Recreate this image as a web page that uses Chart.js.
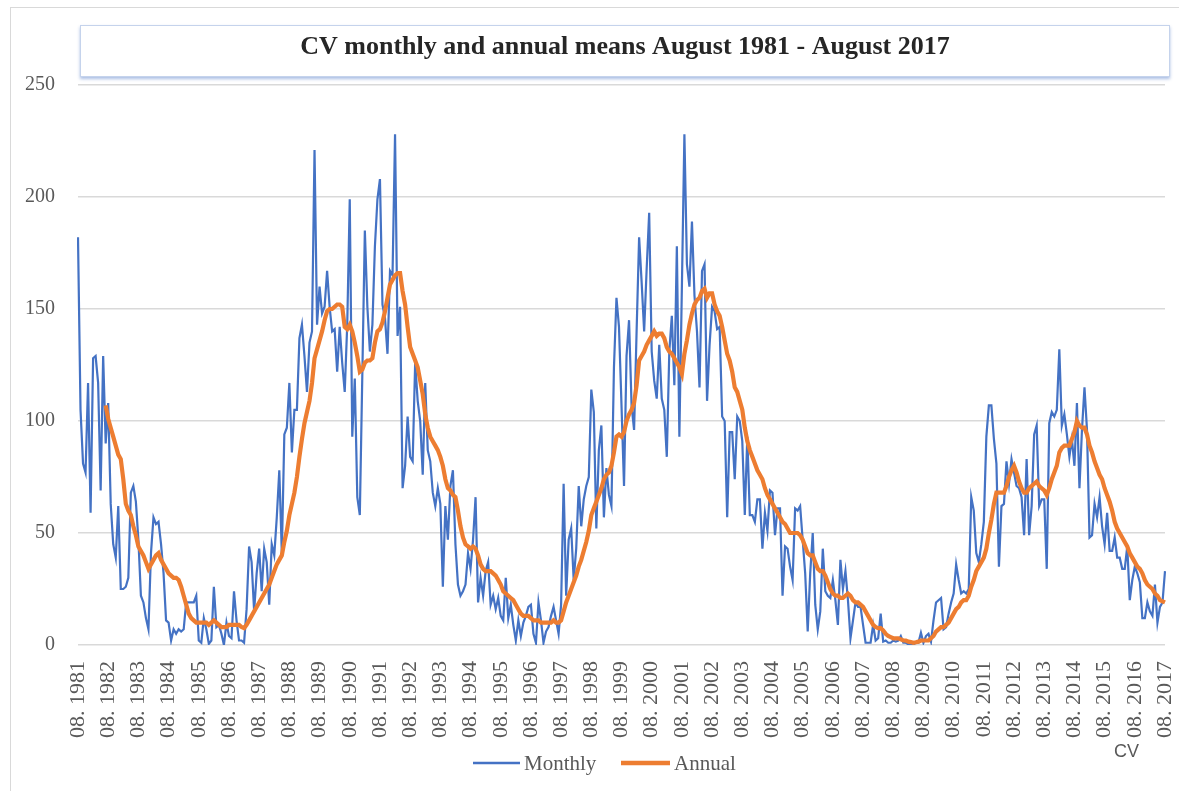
<!DOCTYPE html>
<html>
<head>
<meta charset="utf-8">
<title>CV monthly and annual means</title>
<script src="https://cdn.jsdelivr.net/npm/chart.js@4.4.1/dist/chart.umd.min.js"></script>
<style>
  html, body { margin: 0; padding: 0; background: #fff; }
  #wrap { width: 1179px; height: 791px; }
</style>
</head>
<body>
<div id="wrap"><canvas id="cv-chart" width="1179" height="791"></canvas></div>
<script>
// first month of the series, then one value per month (Aug 1981 .. Aug 2017)
const startYear = 1981;
const startMonth = 8;

const monthly = [
  182, 105, 81, 77, 117, 59, 128, 129, 117, 69, 129, 90,
  108, 63, 45, 39, 62, 25, 25, 26, 30, 68, 71, 64,
  47, 22, 19, 12, 7, 41, 57, 54, 55, 45, 32, 11,
  10, 2, 7, 5, 7, 6, 7, 19, 19, 19, 19, 22,
  2, 1, 12, 7, 0.5, 2, 26, 8, 9, 5, 0, 10,
  4, 3, 24, 11, 2, 2, 1, 16, 44, 37, 15, 32,
  43, 24, 43, 37, 18, 45, 40, 57, 78, 41, 94, 97,
  117, 86, 105, 105, 137, 143, 129, 113, 135, 140, 221, 143,
  160, 148, 151, 167, 151, 140, 141, 122, 142, 126, 113, 143,
  199, 93, 119, 66, 58, 121, 185, 151, 131, 143, 178, 199,
  208, 152, 146, 130, 167, 165, 228, 138, 151, 70, 80, 102,
  84, 82, 126, 109, 100, 76, 117, 87, 82, 68, 62, 70,
  63, 26, 62, 47, 71, 78, 45, 27, 22, 24, 27, 41,
  34, 47, 66, 19, 30, 22, 33, 37, 18, 22, 16, 21,
  13, 11, 30, 12, 18, 9, 2, 11, 4, 10, 13, 17,
  18, 5, 1, 19, 11, 1, 6, 8, 13, 17, 11, 5,
  18, 72, 22, 47, 52, 29, 43, 71, 53, 65, 71, 75,
  114, 104, 52, 87, 98, 57, 79, 67, 62, 124, 155, 142,
  107, 71, 129, 145, 107, 96, 140, 182, 162, 140, 168, 193,
  131, 118, 110, 134, 110, 105, 84, 131, 147, 116, 178, 93,
  160, 228, 170, 160, 189, 156, 140, 115, 167, 170, 109, 134,
  151, 149, 141, 142, 102, 100, 57, 95, 95, 74, 102, 100,
  91, 58, 93, 58, 58, 55, 65, 65, 43, 59, 51, 69,
  68, 49, 61, 61, 22, 44, 43, 35, 29, 61, 60, 62,
  47, 32, 6, 32, 50, 18, 7, 15, 43, 24, 22, 21,
  29, 20, 9, 38, 25, 33, 20, 3, 11, 19, 17, 17,
  9, 1, 1, 1, 9, 2, 3, 14, 1.5, 2, 1, 1,
  2, 1.5, 2, 4, 1, 1, 0.3, 0.3, 0.3, 1, 1, 5.5,
  1, 4, 5, 1.5, 11, 19, 20, 21, 7, 8, 14, 19,
  23, 36, 29, 23, 24, 23, 25, 66, 60, 41, 37, 45,
  55, 93, 107, 107, 92, 81, 35, 62, 63, 82, 72, 83,
  77, 71, 70, 66, 49, 83, 49, 62, 94, 98, 62, 65,
  65, 34, 99, 104, 102, 105, 132, 98, 103, 94, 84, 92,
  80, 108, 70, 96, 115, 96, 48, 49, 63, 57, 66, 53,
  45, 59, 42, 42, 48, 39, 39, 34, 34, 44, 20, 29,
  35, 32, 28, 12, 12, 19, 15, 13, 27, 10, 17, 19,
  33
];

// 12-month means (starts with the 12th month)
const annual = [
  null, null, null, null, null, null, null, null, null, null, null, 107,
  101, 97, 93, 89, 85, 83, 74, 63, 60, 58, 53, 49,
  44, 42, 40, 37, 34, 36, 38, 40, 41, 38, 36, 34,
  32, 31, 30, 30, 29, 26, 22, 18, 14, 12, 11, 10,
  10, 10, 10, 10, 9, 10, 11, 10, 9, 8, 8, 8,
  9, 9, 9, 9, 9, 8, 7.5, 9, 11, 13, 15, 17,
  19, 21, 23, 25, 27, 30, 33, 36, 38, 40, 46, 51,
  58, 63, 68, 75, 84, 92, 99, 104, 109, 117, 128, 132,
  136, 140, 145, 149, 150, 150, 151, 152, 152, 151, 142, 141,
  143, 140, 135, 129, 122, 123, 126, 127, 127, 128, 135, 140,
  141, 144, 149, 155, 161, 163, 165, 166, 166, 158, 152, 142,
  133, 130, 127, 124, 118, 112, 103, 97, 93, 91, 89, 87,
  84, 80, 74, 70, 69, 67, 66, 60, 53, 48, 45, 44,
  43, 44, 43, 40, 36, 34, 33, 33, 33, 32, 31, 29,
  27, 24, 23, 22, 21, 20, 18, 16, 14, 13, 13, 13,
  12, 11, 11, 11, 10, 10, 10, 10, 10, 11, 10, 10,
  11, 15, 19, 22, 25, 28, 31, 35, 38, 42, 46, 51,
  58, 61, 64, 67, 70, 74, 76, 77, 80, 86, 93, 94,
  93, 95, 100, 103, 105, 108, 116, 127, 129, 131, 134, 136,
  138, 140, 138, 139, 139, 137, 133, 131, 130, 128, 126, 124,
  121, 130, 136, 143, 148, 152, 154, 155, 158, 159, 155, 157,
  157, 152, 149, 147, 142, 136, 130, 127, 122, 115, 113, 109,
  105, 97, 91, 87, 84, 81, 78, 76, 74, 70, 67, 65,
  63, 61, 59, 57, 55, 54, 52, 50, 50, 50, 50, 49,
  47, 44, 41, 40, 40, 37, 34, 33, 33, 31, 28, 25,
  23, 22, 22, 21, 21, 22, 23, 22, 20, 19, 19, 18,
  17, 15, 13, 11, 9, 8, 7.5, 7.5, 6.5, 5, 4, 3.5,
  3, 3, 3, 2.5, 2, 2, 1.5, 1.3, 1, 1.2, 1.5, 2,
  2, 2, 2, 3, 4, 6, 7, 8, 8, 9, 10, 12,
  14, 16, 17, 19, 20, 20, 22, 26, 29, 33, 35, 37,
  39, 43, 50, 56, 63, 68, 68, 68, 68, 71, 75, 78,
  80, 77, 73, 70, 68, 68, 70, 71, 72, 73, 71, 70,
  69, 67, 70, 74, 77, 80, 86, 88, 89, 89, 89, 92,
  95, 100, 98, 97, 97, 94, 89, 86, 82, 79, 76, 74,
  70, 67, 64, 60, 55, 52, 50, 48, 46, 44, 41, 39,
  37, 35, 34, 32, 29, 27, 26, 25, 23, 22, 20, 19.5,
  19
];

const seriesNames = ['Monthly', 'Annual'];
const seriesColors = ['#4472C4', '#ED7D31'];
const yTicks = [0, 50, 100, 150, 200, 250];

// "08. 1981", "09. 1981", ... one per monthly value
const categories = monthly.map((_, i) => {
  const m = (startMonth - 1 + i) % 12 + 1;
  const y = startYear + Math.floor((startMonth - 1 + i) / 12);
  return String(m).padStart(2, '0') + '. ' + y;
});

const serif = "'Liberation Serif', 'Times New Roman', serif";
const grey = '#595959';

// frame, title box, legend and the little "CV" note
const decorations = {
  id: 'decorations',
  beforeDraw(chart) {
    const { ctx } = chart;
    ctx.save();
    ctx.strokeStyle = '#d9d9d9';
    ctx.lineWidth = 1;
    ctx.strokeRect(10.5, 7.5, 1200, 800);

    ctx.shadowColor = 'rgba(68,114,196,0.45)';
    ctx.shadowBlur = 3;
    ctx.shadowOffsetY = 2;
    ctx.fillStyle = '#fff';
    ctx.fillRect(80, 25, 1090, 52);
    ctx.shadowColor = 'transparent';
    ctx.strokeStyle = '#c5d3ec';
    ctx.strokeRect(80.5, 25.5, 1089, 51);

    ctx.fillStyle = '#262626';
    ctx.font = 'bold 26px ' + serif;
    ctx.textAlign = 'center';
    ctx.textBaseline = 'alphabetic';
    ctx.fillText('CV monthly and annual means August 1981 - August 2017', 625, 54);
    ctx.restore();
  },
  afterDraw(chart) {
    const { ctx } = chart;
    ctx.save();
    const items = [
      { x: 473, w: 47, lw: 2.5 },
      { x: 621, w: 49, lw: 4.5 }
    ];
    ctx.font = '21px ' + serif;
    ctx.textBaseline = 'middle';
    ctx.textAlign = 'left';
    items.forEach((it, i) => {
      ctx.strokeStyle = seriesColors[i];
      ctx.lineWidth = it.lw;
      ctx.beginPath();
      ctx.moveTo(it.x, 763);
      ctx.lineTo(it.x + it.w, 763);
      ctx.stroke();
      ctx.fillStyle = grey;
      ctx.fillText(seriesNames[i], it.x + it.w + 4, 764);
    });
    ctx.font = "18px 'Liberation Sans', Arial, sans-serif";
    ctx.fillText('CV', 1114, 752);
    ctx.restore();
  }
};

new Chart(document.getElementById('cv-chart'), {
  type: 'line',
  data: {
    labels: categories,
    datasets: [
      {
        label: seriesNames[0],
        data: monthly,
        borderColor: seriesColors[0],
        borderWidth: 2.2,
        pointRadius: 0,
        tension: 0,
        order: 1
      },
      {
        label: seriesNames[1],
        data: annual,
        borderColor: seriesColors[1],
        borderWidth: 4.2,
        pointRadius: 0,
        tension: 0,
        order: 0
      }
    ]
  },
  options: {
    responsive: false,
    animation: false,
    devicePixelRatio: 1,
    layout: { padding: { top: 85, right: 14, bottom: 0, left: 0 } },
    plugins: { legend: { display: false }, title: { display: false }, tooltip: { enabled: false } },
    scales: {
      x: {
        grid: { display: false, drawTicks: false },
        border: { display: false },
        afterBuildTicks: s => { s.ticks = s.ticks.filter(t => t.value % 12 === 0); },
        afterFit: s => { s.height = 146; s.paddingLeft = 0; s.paddingRight = 0; },
        ticks: {
          autoSkip: false,
          minRotation: 90,
          maxRotation: 90,
          padding: 16,
          color: grey,
          font: { family: serif, size: 22 }
        }
      },
      y: {
        min: 0,
        max: 250,
        afterBuildTicks: s => { s.ticks = yTicks.map(v => ({ value: v })); },
        afterFit: s => { s.width = 78; },
        grid: { color: '#d9d9d9', lineWidth: 1.5, drawTicks: false },
        border: { display: false },
        ticks: { padding: 23, color: grey, font: { family: serif, size: 20 } }
      }
    }
  },
  plugins: [decorations]
});
</script>
</body>
</html>
